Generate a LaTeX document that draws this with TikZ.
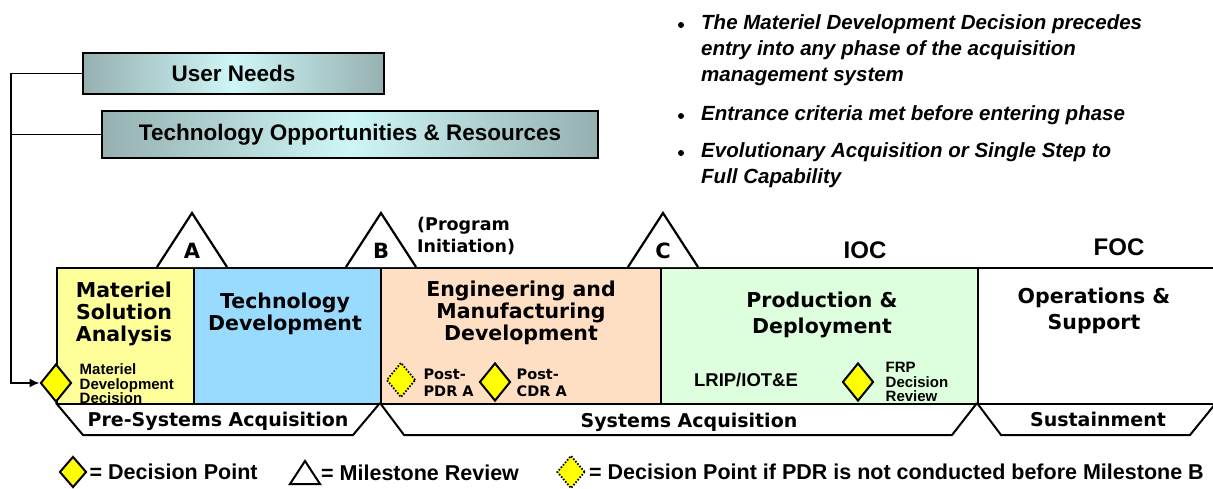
\documentclass[tikz,border=0pt]{standalone}
\usepackage{fontspec}
\setmainfont{Liberation Sans}
\newfontfamily\phasefont{DejaVu Sans}
\usetikzlibrary{shapes.geometric,arrows.meta,positioning}
\definecolor{msacol}{HTML}{FFFF99}
\definecolor{tdcol}{HTML}{99DBFF}
\definecolor{emdcol}{HTML}{FFDFC3}
\definecolor{pdcol}{HTML}{DDFFDD}
\definecolor{dpcol}{HTML}{FFFF00}
\definecolor{inputedge}{RGB}{150,176,176}
\definecolor{inputmid}{RGB}{206,246,246}
\tikzset{
	input/.style={draw,line width=2pt,left color=inputedge,right color=inputedge,middle color=inputmid,inner sep=0,font=\bfseries\fontsize{22.5}{27}\selectfont},
	phase/.style={draw,line width=2.2pt,anchor=north west,inner sep=0,minimum height=136pt},
	phasetitle/.style={align=center,inner sep=0,font=\phasefont\bfseries\fontsize{20.5}{22}\selectfont},
	decision/.style={diamond,draw,line width=2pt,fill=dpcol,inner sep=0,minimum width=31pt,minimum height=38pt},
	pdrdecision/.style={diamond,draw,line width=1.8pt,dash pattern=on 1.6pt off 1.6pt,fill=dpcol,inner sep=0,minimum width=29pt,minimum height=35pt},
	smalllabel/.style={align=left,inner sep=0,font=\bfseries\fontsize{15}{14.5}\selectfont},
	postlabel/.style={align=left,inner sep=0,font=\phasefont\bfseries\fontsize{14.5}{17}\selectfont},
	mstone/.style={draw,line width=2.2pt,fill=white},
	mletter/.style={inner sep=0,font=\phasefont\bfseries\fontsize{21}{21}\selectfont},
	capab/.style={inner sep=0,font=\bfseries\fontsize{24}{24}\selectfont},
	acqbar/.style={draw,line width=2pt},
	barlabel/.style={inner sep=0,font=\phasefont\bfseries\fontsize{19}{19}\selectfont},
	legendtext/.style={inner sep=0,anchor=west,font=\bfseries\fontsize{21.5}{21.5}\selectfont},
	note/.style={align=left,inner sep=0,anchor=west,font=\bfseries\itshape\fontsize{20.5}{26}\selectfont},
	notedot/.style={circle,fill,inner sep=0,minimum size=6pt},
	conn/.style={line width=1.5pt}
}
\begin{document}
\begin{tikzpicture}[x=1pt,y=-1pt]
\useasboundingbox (0,0) rectangle (1213,489);
\node[note] (n1) at (701,50) {The Materiel Development Decision precedes\\entry into any phase of the acquisition\\management system};
\node[note] (n2) at (701,115) {Entrance criteria met before entering phase};
\node[note] (n3) at (701,165) {Evolutionary Acquisition or Single Step to\\Full Capability};
\node[notedot] (d1) at (681,25) {};
\node[notedot] (d2) at (681,116) {};
\node[notedot] (d3) at (681,153) {};
\node[input,minimum width=301pt,minimum height=41pt] (needs) at (233.5,73.5) {User Needs};
\node[input,minimum width=496pt,minimum height=47pt] (techopp) at (350,134.5) {Technology Opportunities \& Resources};
\node[phase,fill=msacol,minimum width=137pt] (msa) at (56,267) {};
\node[phase,fill=tdcol,minimum width=187pt] (td) at (193,267) {};
\node[phase,fill=emdcol,minimum width=280pt] (emd) at (380,267) {};
\node[phase,fill=pdcol,minimum width=317pt] (pd) at (660,267) {};
\node[phase,fill=white,minimum width=250pt] (os) at (977,267) {};
\node[phasetitle] (msat) at (124,314) {Materiel\\Solution\\Analysis};
\node[phasetitle] (tdt) at (285,314) {Technology\\Development};
\node[phasetitle] (emdt) at (521,313) {Engineering and\\Manufacturing\\Development};
\node[phasetitle] (pdt) at (822,315) {Production \&\\[4pt]Deployment};
\node[phasetitle] (ost) at (1094,311) {Operations \&\\[4pt]Support};
\draw[mstone] (157,267) -- (192,213) -- (227,267);
\draw[mstone] (346,267) -- (381,213) -- (416,267);
\draw[mstone] (628,267) -- (663,213) -- (698,267);
\node[mletter] (ma) at (192,251) {A};
\node[mletter] (mb) at (381,251) {B};
\node[mletter] (mc) at (663,251) {C};
\node[align=left,inner sep=0,anchor=west,font=\phasefont\bfseries\fontsize{17.5}{22}\selectfont] (init) at (417,236) {(Program\\Initiation)};
\node[capab] (ioc) at (865,250) {IOC};
\node[capab] (foc) at (1119,247) {FOC};
\node[decision] (mdd) at (56,383) {};
\node[smalllabel,right=7pt of mdd,yshift=-1pt] (mddt) {Materiel\\Development\\Decision};
\node[pdrdecision] (pdr) at (401,380) {};
\node[postlabel,right=7pt of pdr,yshift=-3pt] (pdrt) {Post-\\PDR A};
\node[decision] (cdr) at (495,382) {};
\node[postlabel,right=5pt of cdr,yshift=-1pt] (cdrt) {Post-\\CDR A};
\node[inner sep=0,font=\bfseries\fontsize{18.5}{18.5}\selectfont] (lrip) at (746,380) {LRIP/IOT\&E};
\node[decision] (frp) at (858,382) {};
\node[smalllabel,right=11pt of frp] (frpt) {FRP\\Decision\\Review};
\draw[conn,-{Latex[length=10pt,width=9pt]}] (needs.west) -- ++(-71,0) coordinate (feed) |- (mdd.west);
\draw[conn] (techopp.west) -- (feed |- techopp.west);
\draw[acqbar] (56,403) -- (83,435) -- (353,435) -- (380,403);
\draw[acqbar] (380,403) -- (404,435) -- (952,435) -- (977,403);
\draw[acqbar] (977,403) -- (1001,435) -- (1190,435) -- (1216,403);
\node[barlabel] (pre) at (218,421) {Pre-Systems Acquisition};
\node[barlabel] (sys) at (689,422) {Systems Acquisition};
\node[barlabel] (sus) at (1098,419) {Sustainment};
\node[decision,minimum width=27pt,minimum height=31pt] (lgdp) at (73,472) {};
\node[legendtext,right=2pt of lgdp] (lgdpt) {= Decision Point};
\draw[line width=2pt] (290,484) -- (305,461) -- (320,484) -- cycle;
\node[legendtext] (lgms) at (321,473) {= Milestone Review};
\node[pdrdecision,minimum width=28pt,minimum height=33pt] (lgpdr) at (571,472) {};
\node[legendtext,right=3pt of lgpdr] (lgpdrt) {= Decision Point if PDR is not conducted before Milestone B};
\end{tikzpicture}
\end{document}
